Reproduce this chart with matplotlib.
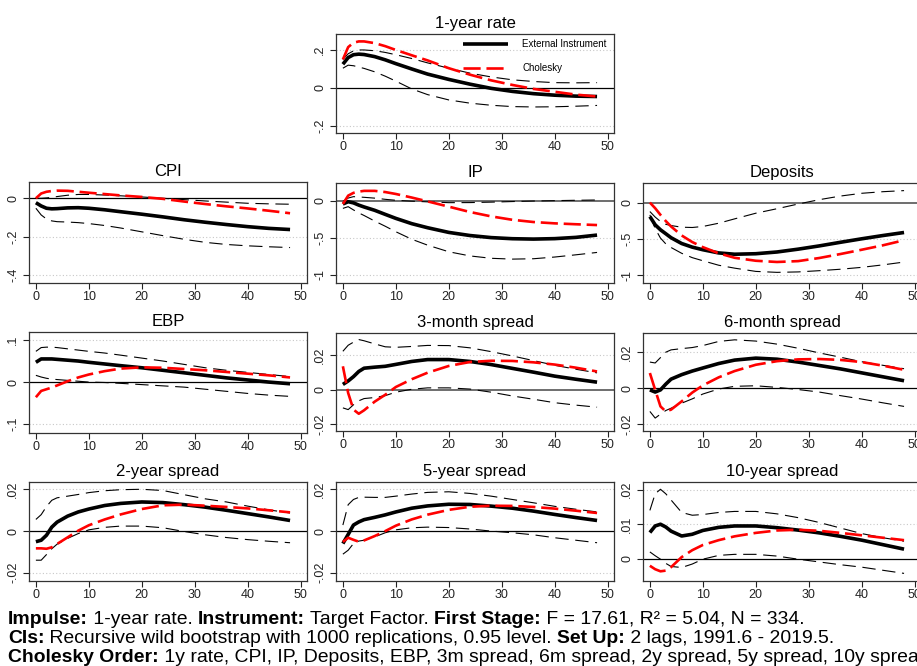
import matplotlib
matplotlib.use("Agg")
import matplotlib.pyplot as plt

plt.rcParams["font.family"] = ["Liberation Sans", "DejaVu Sans"]

# ============================================================
# 数据 (从图中读出, 各期脉冲响应)
# ============================================================
horizons = [0, 1, 2, 3, 4, 6, 8, 10, 13, 16, 20, 24, 28, 32, 36, 40, 44, 48]

# 1-year rate
rate_ei = [0.125, 0.16, 0.175, 0.178, 0.176, 0.165, 0.148, 0.128, 0.10, 0.073, 0.045, 0.02, -0.002, -0.018, -0.03, -0.038, -0.043, -0.045]
rate_chol = [0.15, 0.215, 0.238, 0.245, 0.245, 0.236, 0.22, 0.2, 0.172, 0.145, 0.104, 0.07, 0.04, 0.016, -0.005, -0.02, -0.035, -0.045]
rate_hi = [0.15, 0.18, 0.195, 0.2, 0.2, 0.196, 0.187, 0.175, 0.155, 0.132, 0.104, 0.078, 0.058, 0.043, 0.034, 0.028, 0.027, 0.028]
rate_lo = [0.104, 0.12, 0.117, 0.11, 0.103, 0.085, 0.062, 0.036, -0.005, -0.035, -0.063, -0.08, -0.091, -0.098, -0.1, -0.099, -0.096, -0.092]

# CPI
cpi_ei = [-0.023, -0.04, -0.052, -0.055, -0.054, -0.05, -0.049, -0.052, -0.06, -0.07, -0.083, -0.097, -0.112, -0.125, -0.137, -0.148, -0.157, -0.163]
cpi_chol = [0.0, 0.025, 0.034, 0.038, 0.04, 0.039, 0.034, 0.029, 0.022, 0.015, 0.007, -0.003, -0.017, -0.03, -0.042, -0.053, -0.065, -0.078]
cpi_hi = [0.0, 0.0, 0.002, 0.005, 0.009, 0.016, 0.02, 0.02, 0.017, 0.013, 0.007, 0.0, -0.007, -0.014, -0.02, -0.026, -0.029, -0.031]
cpi_lo = [-0.052, -0.087, -0.108, -0.118, -0.122, -0.124, -0.127, -0.132, -0.142, -0.155, -0.175, -0.195, -0.214, -0.23, -0.241, -0.248, -0.253, -0.257]

# IP
ip_ei = [-0.045, -0.014, -0.03, -0.06, -0.085, -0.13, -0.185, -0.239, -0.31, -0.365, -0.428, -0.47, -0.498, -0.513, -0.518, -0.512, -0.495, -0.464]
ip_chol = [-0.045, 0.068, 0.105, 0.122, 0.132, 0.132, 0.116, 0.09, 0.042, -0.01, -0.081, -0.153, -0.212, -0.258, -0.288, -0.306, -0.318, -0.329]
ip_hi = [-0.01, 0.035, 0.054, 0.05, 0.045, 0.034, 0.018, 0.005, -0.007, -0.016, -0.027, -0.026, -0.02, -0.012, -0.005, 0.0, 0.005, 0.009]
ip_lo = [-0.104, -0.081, -0.125, -0.165, -0.2, -0.275, -0.345, -0.419, -0.52, -0.6, -0.689, -0.745, -0.777, -0.788, -0.783, -0.76, -0.73, -0.698]

# Deposits
dep_ei = [-0.193, -0.307, -0.376, -0.43, -0.485, -0.565, -0.615, -0.651, -0.695, -0.713, -0.706, -0.682, -0.643, -0.598, -0.548, -0.5, -0.455, -0.413]
dep_chol = [0.0, -0.078, -0.17, -0.255, -0.33, -0.454, -0.545, -0.615, -0.7, -0.762, -0.803, -0.82, -0.808, -0.765, -0.71, -0.651, -0.59, -0.52]
dep_hi = [-0.124, -0.2, -0.261, -0.3, -0.317, -0.34, -0.344, -0.33, -0.285, -0.225, -0.147, -0.085, -0.02, 0.04, 0.09, 0.128, 0.15, 0.165]
dep_lo = [-0.17, -0.36, -0.49, -0.57, -0.62, -0.7, -0.76, -0.803, -0.865, -0.905, -0.95, -0.963, -0.957, -0.94, -0.92, -0.894, -0.86, -0.821]

# EBP
ebp_ei = [0.047, 0.055, 0.055, 0.055, 0.054, 0.052, 0.05, 0.047, 0.043, 0.039, 0.034, 0.028, 0.022, 0.016, 0.01, 0.005, 0.0, -0.004]
ebp_chol = [-0.036, -0.021, -0.017, -0.013, -0.008, 0.002, 0.011, 0.018, 0.026, 0.032, 0.035, 0.034, 0.031, 0.028, 0.024, 0.02, 0.016, 0.011]
ebp_hi = [0.073, 0.082, 0.083, 0.083, 0.082, 0.079, 0.076, 0.073, 0.069, 0.064, 0.057, 0.05, 0.042, 0.034, 0.028, 0.023, 0.018, 0.013]
ebp_lo = [0.016, 0.012, 0.009, 0.007, 0.006, 0.004, 0.002, 0.0, -0.001, -0.003, -0.006, -0.009, -0.012, -0.017, -0.022, -0.027, -0.031, -0.034]

# 3-month spread
s3m_ei = [0.003, 0.005, 0.0075, 0.0105, 0.0124, 0.013, 0.0135, 0.0146, 0.0163, 0.0174, 0.0174, 0.0163, 0.0145, 0.0123, 0.0101, 0.0078, 0.006, 0.0043]
s3m_chol = [0.0135, -0.002, -0.0116, -0.014, -0.012, -0.007, -0.003, 0.0015, 0.006, 0.0098, 0.0137, 0.016, 0.0167, 0.0166, 0.0158, 0.0145, 0.0127, 0.0105]
s3m_hi = [0.0222, 0.0257, 0.0275, 0.029, 0.0283, 0.0265, 0.0248, 0.0245, 0.025, 0.0256, 0.0255, 0.0242, 0.022, 0.0195, 0.0168, 0.0141, 0.0118, 0.0097]
s3m_lo = [-0.0106, -0.0116, -0.0088, -0.0065, -0.0052, -0.0046, -0.0035, -0.0015, 0.0002, 0.001, 0.001, 0.0003, -0.0015, -0.0037, -0.0056, -0.0076, -0.009, -0.0102]

# 6-month spread
s6m_ei = [-0.001, -0.0022, -0.001, 0.0022, 0.005, 0.0075, 0.0095, 0.0112, 0.0137, 0.0156, 0.0167, 0.0161, 0.0145, 0.0126, 0.0107, 0.0085, 0.0063, 0.0041]
s6m_chol = [0.0084, -0.001, -0.0102, -0.013, -0.012, -0.0074, -0.0025, 0.0015, 0.006, 0.0095, 0.013, 0.015, 0.016, 0.0162, 0.0157, 0.0145, 0.0125, 0.0102]
s6m_hi = [0.0145, 0.014, 0.017, 0.02, 0.0213, 0.022, 0.0226, 0.0237, 0.026, 0.0269, 0.0262, 0.0245, 0.0222, 0.0196, 0.0172, 0.0147, 0.0127, 0.0108]
s6m_lo = [-0.013, -0.0167, -0.0145, -0.0125, -0.0112, -0.0084, -0.006, -0.0033, -0.0005, 0.001, 0.0013, 0.0004, -0.0008, -0.0022, -0.0042, -0.0061, -0.0082, -0.0102]

# 2-year spread
s2y_ei = [-0.0051, -0.0044, -0.002, 0.0019, 0.0043, 0.0072, 0.0092, 0.0106, 0.0123, 0.0133, 0.014, 0.0137, 0.0127, 0.0115, 0.01, 0.0084, 0.0068, 0.0051]
s2y_chol = [-0.0083, -0.0083, -0.0085, -0.0078, -0.0062, -0.003, 0.0002, 0.0028, 0.0056, 0.008, 0.0106, 0.0124, 0.0127, 0.0122, 0.0116, 0.0109, 0.01, 0.009]
s2y_hi = [0.0056, 0.0079, 0.0118, 0.0148, 0.016, 0.0168, 0.0176, 0.0185, 0.0194, 0.0199, 0.0201, 0.0195, 0.0175, 0.0155, 0.014, 0.012, 0.0102, 0.0087]
s2y_lo = [-0.014, -0.014, -0.0113, -0.0085, -0.0063, -0.0035, -0.0012, 0.0006, 0.0018, 0.0024, 0.0024, 0.0016, -0.0002, -0.0018, -0.0031, -0.0041, -0.0049, -0.0056]

# 5-year spread
s5y_ei = [-0.006, -0.0016, 0.0029, 0.0044, 0.0055, 0.0066, 0.0078, 0.0092, 0.011, 0.0121, 0.0129, 0.0128, 0.012, 0.011, 0.0096, 0.008, 0.0065, 0.0051]
s5y_chol = [-0.0052, -0.0032, -0.0042, -0.0051, -0.0045, -0.0024, 0.0, 0.0026, 0.0056, 0.0079, 0.0102, 0.0117, 0.0122, 0.0121, 0.0116, 0.0108, 0.0098, 0.0087]
s5y_hi = [0.0029, 0.0127, 0.0152, 0.0162, 0.0163, 0.0162, 0.0162, 0.0168, 0.0178, 0.0186, 0.0189, 0.0181, 0.0168, 0.0152, 0.0136, 0.0119, 0.0105, 0.0092]
s5y_lo = [-0.0111, -0.0092, -0.006, -0.0048, -0.0044, -0.0028, -0.0008, 0.0006, 0.0016, 0.0019, 0.0017, 0.001, 0.0, -0.0008, -0.0018, -0.0032, -0.0044, -0.0056]

# 10-year spread
s10y_ei = [0.0076, 0.0095, 0.01, 0.0092, 0.008, 0.0066, 0.0071, 0.0082, 0.0091, 0.0095, 0.0095, 0.009, 0.0083, 0.0075, 0.0065, 0.0054, 0.0041, 0.0028]
s10y_chol = [-0.002, -0.003, -0.0036, -0.0034, -0.0024, 0.0005, 0.0025, 0.004, 0.0054, 0.0065, 0.0075, 0.0082, 0.0084, 0.0081, 0.0075, 0.0068, 0.0061, 0.0054]
s10y_hi = [0.014, 0.0188, 0.0201, 0.0188, 0.017, 0.0134, 0.0126, 0.0128, 0.0134, 0.0137, 0.0137, 0.013, 0.0119, 0.0105, 0.0089, 0.0073, 0.0061, 0.0051]
s10y_lo = [0.002, 0.0009, -0.0001, -0.0013, -0.0022, -0.0025, -0.0015, -0.0001, 0.001, 0.0013, 0.0013, 0.0008, -0.0001, -0.0009, -0.0017, -0.0024, -0.0033, -0.0042]

x_ticks = [0, 10, 20, 30, 40, 50]

# ============================================================
# 面板设置: 标题, 数据, 纵轴刻度, 位置 (像素)
# ============================================================
W, H = 917, 666
COL_L = [29, 336, 643]
AX_W = 278

panels = [
    # title, (ei, chol, hi, lo), yticks, yticklabels, ylim, (left, top, bottom), zero line gray?
    ("1-year rate", (rate_ei, rate_chol, rate_hi, rate_lo), [-0.2, 0, 0.2], ["-.2", "0", ".2"],
     (-0.237, 0.284), (336, 34, 133), False),
    ("CPI", (cpi_ei, cpi_chol, cpi_hi, cpi_lo), [-0.4, -0.2, 0], ["-.4", "-.2", "0"],
     (-0.442, 0.085), (COL_L[0], 182, 283), False),
    ("IP", (ip_ei, ip_chol, ip_hi, ip_lo), [-1, -0.5, 0], ["-1", "-.5", "0"],
     (-1.11, 0.238), (COL_L[1], 183, 283), True),
    ("Deposits", (dep_ei, dep_chol, dep_hi, dep_lo), [-1, -0.5, 0], ["-1", "-.5", "0"],
     (-1.11, 0.27), (COL_L[2], 183, 283), True),
    ("EBP", (ebp_ei, ebp_chol, ebp_hi, ebp_lo), [-0.1, 0, 0.1], ["-.1", "0", ".1"],
     (-0.121, 0.119), (COL_L[0], 332, 433), False),
    ("3-month spread", (s3m_ei, s3m_chol, s3m_hi, s3m_lo), [-0.02, 0, 0.02], ["-.02", "0", ".02"],
     (-0.024, 0.0328), (COL_L[1], 333, 431), True),
    ("6-month spread", (s6m_ei, s6m_chol, s6m_hi, s6m_lo), [-0.02, 0, 0.02], ["-.02", "0", ".02"],
     (-0.0239, 0.0307), (COL_L[2], 333, 431), False),
    ("2-year spread", (s2y_ei, s2y_chol, s2y_hi, s2y_lo), [-0.02, 0, 0.02], ["-.02", "0", ".02"],
     (-0.024, 0.0236), (COL_L[0], 482, 581), False),
    ("5-year spread", (s5y_ei, s5y_chol, s5y_hi, s5y_lo), [-0.02, 0, 0.02], ["-.02", "0", ".02"],
     (-0.024, 0.0236), (COL_L[1], 482, 581), False),
    ("10-year spread", (s10y_ei, s10y_chol, s10y_hi, s10y_lo), [0, 0.01, 0.02], ["0", ".01", ".02"],
     (-0.0064, 0.0222), (COL_L[2], 482, 581), False),
]

fig = plt.figure(figsize=(W / 100, H / 100), dpi=100)
fig.patch.set_facecolor("white")

legend_ax = None
for title, (ei, chol, hi, lo), yt, ytl, ylim, (left, top, bottom), gray_zero in panels:
    ax = fig.add_axes([left / W, 1 - bottom / H, AX_W / W, (bottom - top) / H])

    # 网格 + 零线
    for t in yt:
        if t != 0:
            ax.axhline(t, color="#c8c8c8", linestyle=(0, (1, 2)), linewidth=0.8, zorder=0)
    if gray_zero:
        ax.axhline(0, color="#6e6e6e", linewidth=1.4, zorder=1)
    else:
        ax.axhline(0, color="black", linewidth=0.9, zorder=1)

    ax.plot(horizons, hi, color="black", linewidth=0.8, dashes=(12, 6), zorder=2)
    ax.plot(horizons, lo, color="black", linewidth=0.8, dashes=(12, 6), zorder=2)
    ax.plot(horizons, ei, color="black", linewidth=2.6, solid_capstyle="butt", zorder=3,
            label="External Instrument")
    ax.plot(horizons, chol, color="#ff0000", linewidth=1.9, dashes=(6.5, 2.2), zorder=4,
            label="Cholesky")

    ax.set_xlim(-1.3, 51.2)
    ax.set_ylim(*ylim)
    ax.set_xticks(x_ticks)
    ax.set_yticks(yt)
    ax.set_yticklabels(ytl, rotation=90, va="center")
    ax.tick_params(direction="out", length=4, width=0.8, labelsize=9, colors="#222222",
                   pad=2)
    ax.tick_params(axis="y", pad=3)
    for sp in ax.spines.values():
        sp.set_color("#333333")
        sp.set_linewidth(0.9)
    ax.set_title(title, fontsize=12, pad=4)

    if legend_ax is None:
        legend_ax = ax

# 图例 (顶部面板内)
legend_ax.legend(loc="upper left", bbox_to_anchor=(463 / W, 1 - 39 / H),
                 bbox_transform=fig.transFigure, frameon=False, fontsize=7,
                 borderpad=0, borderaxespad=0, handlelength=4.6, handletextpad=1.5,
                 labelspacing=1.45)

# 底部说明文字
lines = [
    [("Impulse:", True), (" 1-year rate. ", False), ("Instrument:", True),
     (" Target Factor. ", False), ("First Stage:", True),
     (" F = 17.61, R\u00b2 = 5.04, N = 334.", False)],
    [("CIs:", True), (" Recursive wild bootstrap with 1000 replications, 0.95 level. ", False),
     ("Set Up:", True), (" 2 lags, 1991.6 - 2019.5.", False)],
    [("Cholesky Order:", True),
     (" 1y rate, CPI, IP, Deposits, EBP, 3m spread, 6m spread, 2y spread, 5y spread, 10y spread",
      False)],
]
line_base = [624, 643, 662]

fig.canvas.draw()
renderer = fig.canvas.get_renderer()
for parts, yb in zip(lines, line_base):
    x = 8
    for txt, bold in parts:
        t = fig.text(x / W, 1 - yb / H, txt, fontsize=13.95,
                     fontweight="bold" if bold else "normal", va="baseline", ha="left")
        bb = t.get_window_extent(renderer=renderer)
        x += bb.width

fig.savefig("out.png", dpi=100)
plt.close(fig)
